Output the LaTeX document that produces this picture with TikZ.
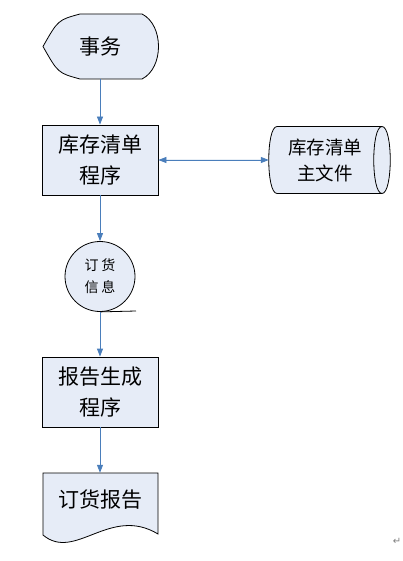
\documentclass[tikz,border=0pt]{standalone}
\usepackage{fontspec}
\usepackage{tikz}
\usetikzlibrary{arrows.meta}
\newfontfamily\cjk{Noto Sans CJK SC}
\newfontfamily\markfont{DejaVu Sans}
\definecolor{flowfill}{HTML}{E6ECF7}
\definecolor{flowblue}{HTML}{4A7EBB}

\begin{document}
\begin{tikzpicture}[x=1pt,y=-1pt,
  outline/.style={draw,line width=0.8pt,fill=flowfill},
  proc/.style={outline,minimum width=116pt,minimum height=70pt,inner sep=0pt,align=center,font=\cjk\fontsize{21}{31}\selectfont},
  label/.style={inner sep=0pt,align=center,font=\cjk\fontsize{21}{31}\selectfont},
  store/.style={inner sep=0pt,minimum width=112pt,minimum height=67pt,align=center,font=\cjk\fontsize{18.5}{26}\selectfont},
  conn/.style={outline,circle,minimum size=70pt,inner sep=0pt,align=center,font=\cjk\fontsize{14}{22}\selectfont},
  arrow/.style={-{Triangle[length=8pt,width=6pt]},line width=0.8pt,draw=flowblue,fill=flowblue}
]
\useasboundingbox (0,0) rectangle (403,561);
% display, stored data and document outlines
\draw[outline] (80,14) -- (142,14) .. controls (164,25) and (164,68) .. (142,79)
  -- (80,79) .. controls (58,73) .. (43,46.5) .. controls (58,20) .. (80,14) -- cycle;
\draw[outline] (277,126.5) -- (382,126.5) .. controls (393,126.5) and (393,193.5) .. (382,193.5)
  -- (277,193.5) .. controls (266,193.5) and (266,126.5) .. (277,126.5) -- cycle;
\draw[line width=0.8pt] (382,126.5) .. controls (371,126.5) and (371,193.5) .. (382,193.5);
\draw[outline] (43,473) -- (158,473) -- (158,534)
  .. controls (110,505) and (75,562) .. (43,535) -- cycle;
\node[label,minimum width=116pt,minimum height=65pt] (task) at (100,46.5) {事务};
\node[proc] (inv) at (100,160) {库存清单\\程序};
\node[store] (master) at (325,160) {库存清单\\主文件};
\node[conn] (order) at (100,276.5) {订\hspace{3pt}货\\信\hspace{3pt}息};
\coordinate (tick) at (136,311);
\node[proc] (gen) at (100,392) {报告生成\\程序};
\node[label,minimum width=115pt,minimum height=54pt] (report) at (100,500) {订货报告};
\node[text=gray,font=\markfont\fontsize{10}{12}\selectfont] (ret) at (397,541) {↵};
\draw[arrow] (task) -- (inv);
\draw[arrow,{Triangle[length=8pt,width=6pt]}-{Triangle[length=8pt,width=6pt]}] (inv) -- (master);
\draw[arrow] (inv) -- (order);
\draw[line width=0.8pt] (order.south) -- (tick);
\draw[arrow] (order) -- (gen);
\draw[arrow] (gen) -- (report);
\end{tikzpicture}
\end{document}
